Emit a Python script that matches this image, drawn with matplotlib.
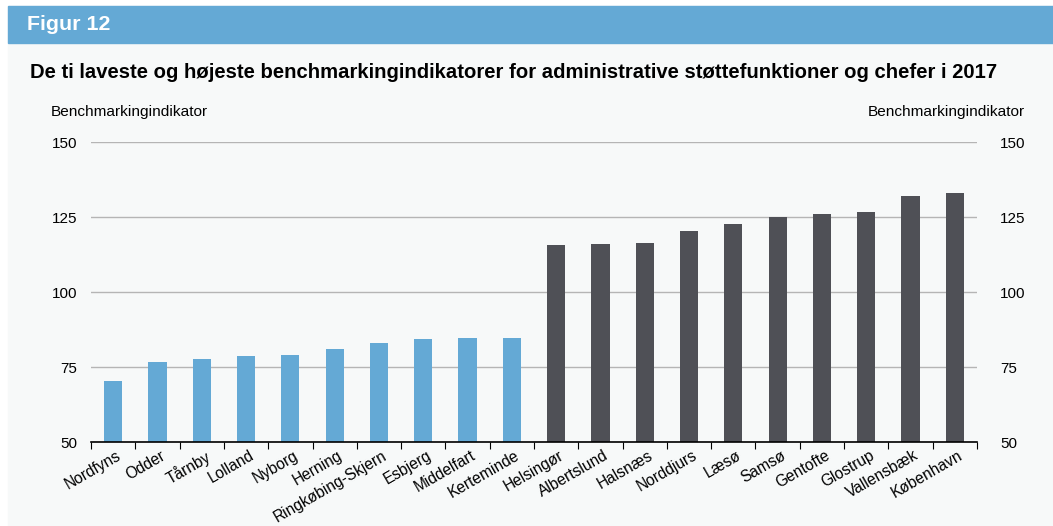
import matplotlib.pyplot as plt
import matplotlib.patches as patches
import matplotlib.transforms as mtransforms
import numpy as np

plt.rcParams['font.family'] = ['Liberation Sans', 'DejaVu Sans']

# ten lowest and ten highest municipalities
low_names = ['Nordfyns', 'Odder', 'Tårnby', 'Lolland', 'Nyborg', 'Herning',
             'Ringkøbing-Skjern', 'Esbjerg', 'Middelfart', 'Kerteminde']
low_values = [70.4, 76.8, 77.8, 78.8, 79.1, 81.1, 83.1, 84.4, 84.8, 84.8]
high_names = ['Helsingør', 'Albertslund', 'Halsnæs', 'Norddjurs', 'Læsø',
              'Samsø', 'Gentofte', 'Glostrup', 'Vallensbæk', 'København']
high_values = [115.8, 116.1, 116.4, 120.4, 122.8, 125.1, 126.1, 126.8, 132.1, 133.1]
yticks = [50, 75, 100, 125, 150]

BLUE = '#64A9D5'
DARK = '#4F5056'
BG = '#F7F9F9'

W, H = 1053, 526
fig = plt.figure(figsize=(W / 100, H / 100), dpi=100)
fig.patch.set_facecolor('white')

# panel background and header band
fig.add_artist(patches.Rectangle((8 / W, 0), 1 - 8 / W, 1 - 6 / H,
                                 transform=fig.transFigure, color=BG, zorder=0))
fig.add_artist(patches.Rectangle((8 / W, 1 - 43 / H), 1 - 8 / W, 37 / H,
                                 transform=fig.transFigure, color=BLUE, zorder=1))
fig.text(27 / W, 1 - 24 / H, 'Figur 12', color='white', fontsize=15.4,
         fontweight='bold', va='center', ha='left')
fig.text(30 / W, 1 - 73 / H,
         'De ti laveste og højeste benchmarkingindikatorer for administrative støttefunktioner og chefer i 2017',
         fontsize=14.6, fontweight='bold', va='center', ha='left')
fig.text(51 / W, 1 - 112 / H, 'Benchmarkingindikator', fontsize=11.1, va='center', ha='left')
fig.text(1025 / W, 1 - 112 / H, 'Benchmarkingindikator', fontsize=11.1, va='center', ha='right')

ax = fig.add_axes([91 / W, 1 - 442.3 / H, (977 - 91) / W, (442.3 - 142.3) / H])
ax.set_facecolor('none')

names = low_names + high_names
x = np.arange(len(names))
ax.bar(x[:10], low_values, width=0.41, color=BLUE, zorder=3)
ax.bar(x[10:], high_values, width=0.41, color=DARK, zorder=3)

ax.set_xlim(-0.5, len(names) - 0.5)
ax.set_ylim(50, 150)
ax.set_yticks(yticks)
ax.yaxis.grid(True, color='#B5B5B5', linewidth=1, zorder=0)
ax.tick_params(axis='y', length=0, labelsize=11, pad=10)

# right hand scale
ax2 = ax.twinx()
ax2.set_ylim(50, 150)
ax2.set_yticks(yticks)
ax2.tick_params(axis='y', length=0, labelsize=11, pad=16.5)
for s in ax2.spines.values():
    s.set_visible(False)

# boundary ticks between categories, labels at centres
ax.set_xticks(np.arange(-0.5, len(names) + 0.5, 1))
ax.set_xticklabels([])
ax.tick_params(axis='x', which='major', length=5, direction='out', color='black')
ax.set_xticks(x, minor=True)
ax.set_xticklabels(names, minor=True, rotation=30, ha='right', va='top',
                   rotation_mode='anchor', fontsize=11.2)
ax.tick_params(axis='x', which='minor', length=0, pad=4)
shift = mtransforms.ScaledTranslation(3 / 100, 0, fig.dpi_scale_trans)
for lab in ax.get_xticklabels(minor=True):
    lab.set_transform(lab.get_transform() + shift)

for side in ['top', 'left', 'right']:
    ax.spines[side].set_visible(False)
ax.spines['bottom'].set_color('black')
ax.spines['bottom'].set_linewidth(1.2)
ax.spines['bottom'].set_zorder(4)

fig.savefig('out.png', dpi=100, facecolor=fig.get_facecolor())
